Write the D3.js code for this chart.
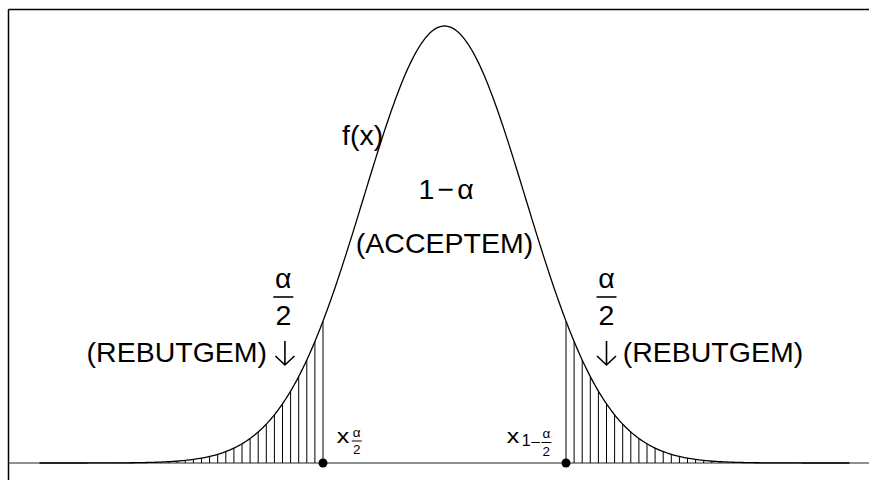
<!DOCTYPE html>
<html>
<head>
<meta charset="utf-8">
<script src="https://cdn.jsdelivr.net/npm/d3@7"></script>
<style>
  body { margin: 0; background: #fff; }
  svg { display: block; }
  text { font-family: "Liberation Sans", Arial, sans-serif; fill: #000; }
</style>
</head>
<body>
<div id="chart"></div>
<script>
// plotted function: standard normal density f(x), mean 0, sd 1
var xDomain = [-5, 5];
var criticalX = [-1.5, 1.5];
var hatchStep = 0.1;
var sampleStep = 0.02;

var W = 869, H = 480;

var svg = d3.select("#chart").append("svg")
    .attr("width", W)
    .attr("height", H);

var f = function (x) {
    return Math.exp(-x * x / 2) / Math.sqrt(2 * Math.PI);
};

var x = d3.scaleLinear().domain(xDomain).range([39.5, 849.5]);
var y = d3.scaleLinear().domain([0, f(0)]).range([463, 26]);

// frame (only top and left edges fall inside the picture)
svg.append("line")
    .attr("x1", 8.5).attr("x2", W).attr("y1", 9.5).attr("y2", 9.5)
    .attr("stroke", "#000").attr("stroke-width", 1.5);
svg.append("line")
    .attr("x1", 8.5).attr("x2", 8.5).attr("y1", 9.5).attr("y2", H)
    .attr("stroke", "#000").attr("stroke-width", 1.5);

// baseline
svg.append("line")
    .attr("x1", 8.5).attr("x2", W).attr("y1", y(0)).attr("y2", y(0))
    .attr("stroke", "#222").attr("stroke-width", 1);

// hatching of both tails
var hatchLeft = d3.range(0, Math.round((criticalX[0] - xDomain[0]) / hatchStep) + 1)
    .map(function (i) { return xDomain[0] + i * hatchStep; });
var hatchRight = d3.range(0, Math.round((xDomain[1] - criticalX[1]) / hatchStep) + 1)
    .map(function (i) { return criticalX[1] + i * hatchStep; });

svg.selectAll(".hatch")
    .data(hatchLeft.concat(hatchRight))
    .enter()
    .append("line")
    .attr("class", "hatch")
    .attr("x1", function (d) { return x(d); })
    .attr("x2", function (d) { return x(d); })
    .attr("y1", y(0))
    .attr("y2", function (d) { return y(f(d)); })
    .attr("stroke", "#000")
    .attr("stroke-width", 1);

// density curve
var pts = d3.range(xDomain[0], xDomain[1] + sampleStep / 2, sampleStep);
svg.append("path")
    .datum(pts)
    .attr("fill", "none")
    .attr("stroke", "#000")
    .attr("stroke-width", 1.3)
    .attr("d", d3.line()
        .x(function (d) { return x(d); })
        .y(function (d) { return y(f(d)); }));

// critical points
svg.selectAll(".crit")
    .data(criticalX)
    .enter()
    .append("circle")
    .attr("class", "crit")
    .attr("cx", function (d) { return x(d); })
    .attr("cy", y(0))
    .attr("r", 4.5)
    .attr("fill", "#000");

var big = 28.5;

// f(x)
svg.append("text")
    .attr("x", x(-1.265)).attr("y", 145)
    .style("font-size", big + "px")
    .text("f(x)");

// 1 - alpha
var t1 = svg.append("text")
    .attr("x", x(0.02)).attr("y", 199)
    .attr("text-anchor", "middle")
    .style("font-size", big + "px");
t1.append("tspan").text("1");
t1.append("tspan").attr("dx", 3).text("\u2212");
t1.append("tspan").attr("dx", 3).text("\u03b1");

svg.append("text")
    .attr("x", x(0)).attr("y", 253)
    .attr("text-anchor", "middle")
    .style("font-size", big + "px")
    .text("(ACCEPTEM)");

// alpha / 2 fractions
function fraction(cx, barY, size, half) {
    svg.append("text")
        .attr("x", cx).attr("y", barY - size * 0.3)
        .attr("text-anchor", "middle")
        .style("font-size", size + "px")
        .text("\u03b1");
    svg.append("line")
        .attr("x1", cx - half).attr("x2", cx + half)
        .attr("y1", barY).attr("y2", barY)
        .attr("stroke", "#000").attr("stroke-width", Math.max(1, size / 18));
    svg.append("text")
        .attr("x", cx).attr("y", barY + size * 0.98)
        .attr("text-anchor", "middle")
        .style("font-size", size + "px")
        .text("2");
}

// down arrow (stem plus open head)
function downArrow(cx, top, bottom) {
    svg.append("path")
        .attr("d", "M" + cx + "," + top + "V" + bottom +
            "M" + (cx - 9.5) + "," + (bottom - 9) + "L" + cx + "," + bottom +
            "L" + (cx + 9.5) + "," + (bottom - 9))
        .attr("fill", "none")
        .attr("stroke", "#000")
        .attr("stroke-width", 1.6);
}

// wide italic-free "x" as drawn in the reference
function bigX(px, py) {
    svg.append("text")
        .attr("transform", "translate(" + px + "," + py + ") scale(1.25,1)")
        .style("font-size", "20px")
        .text("x");
}

fraction(x(-1.99), 297, big, 10);
fraction(x(2.0), 297, big, 10);

// REBUTGEM labels
svg.append("text")
    .attr("x", x(-2.19)).attr("y", 362)
    .attr("text-anchor", "end")
    .style("font-size", big + "px")
    .text("(REBUTGEM)");
downArrow(x(-1.97), 341, 365);

downArrow(x(2.0), 341, 365);
svg.append("text")
    .attr("x", x(2.2)).attr("y", 362)
    .attr("text-anchor", "start")
    .style("font-size", big + "px")
    .text("(REBUTGEM)");

// quantile labels
var small = 13.5;
var lx = x(-1.33);
bigX(lx, 443);
fraction(lx + 20, 441, small, 5);

var rx = x(0.77);
bigX(rx, 443);
svg.append("text")
    .attr("x", rx + 15).attr("y", 446)
    .style("font-size", "16px")
    .text("1");
svg.append("line")
    .attr("x1", rx + 24.5).attr("x2", rx + 33)
    .attr("y1", 442.5).attr("y2", 442.5)
    .attr("stroke", "#000").attr("stroke-width", 1);
fraction(rx + 39.5, 442.5, small, 5);
</script>
</body>
</html>
